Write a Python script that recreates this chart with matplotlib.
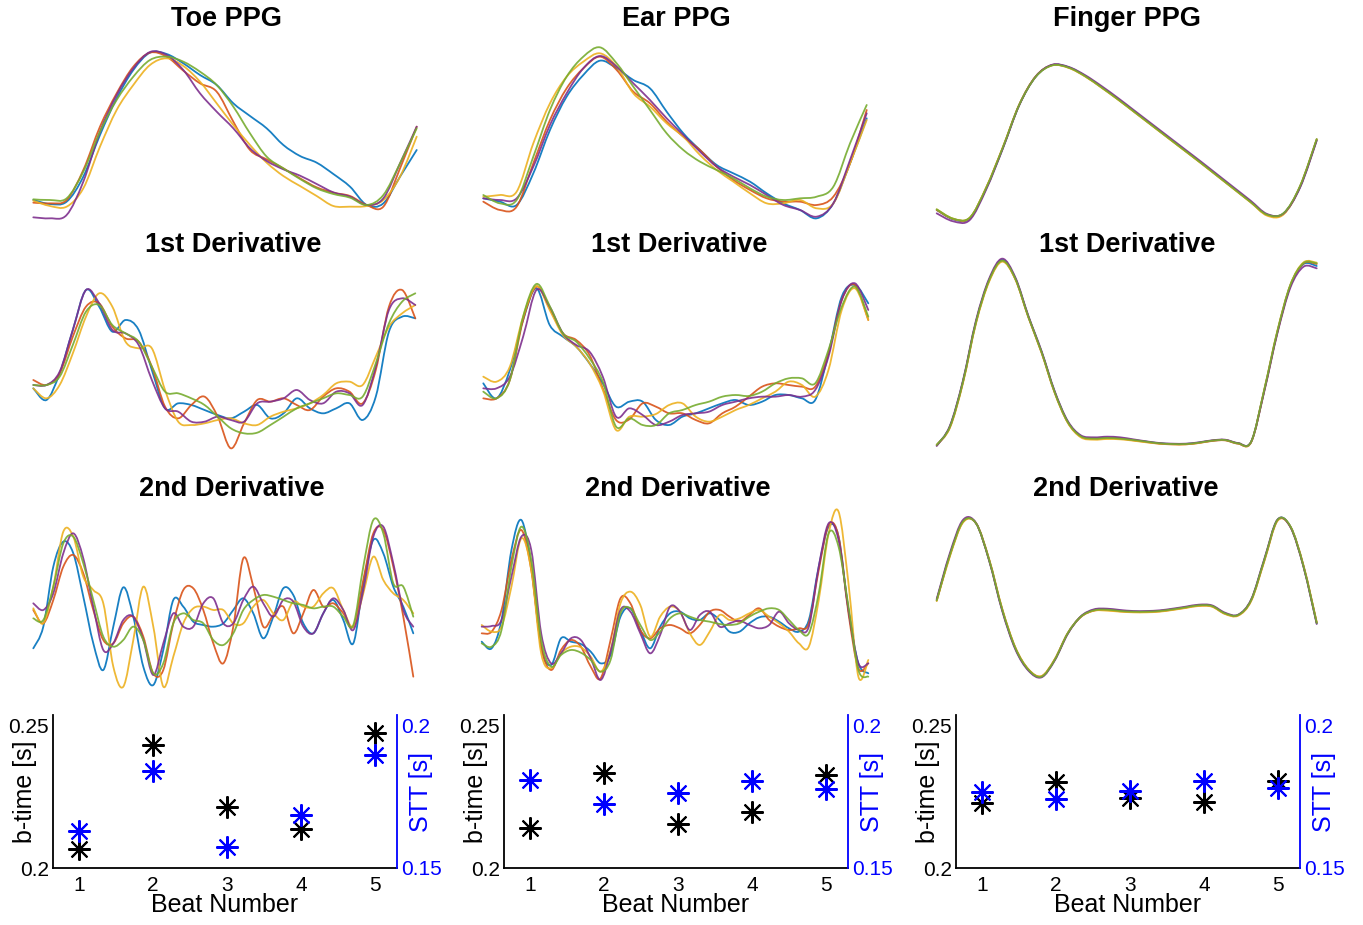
"""PPG beat overlays (toe / ear / finger) with b-time and STT per beat."""

import matplotlib
matplotlib.use('Agg')
import matplotlib.pyplot as plt
from matplotlib.path import Path
from matplotlib.patches import PathPatch
import numpy as np

plt.rcParams['font.family'] = ['Liberation Sans', 'DejaVu Sans']

# MATLAB default line order: blue, red, yellow, purple, green
TRACE_COLORS = ['#0072BD', '#D95319', '#EDB120', '#7E2F8E', '#77AC30']

# ---------------- Toe (amplitude, a.u.) ----------------
toe_ppg_blue = [90, 78, 85, 160, 285, 395, 480, 532, 528, 500, 465, 435, 380, 342, 305, 255, 222, 202, 168, 130, 75, 80, 160, 240]
toe_ppg_red = [82, 80, 90, 180, 310, 410, 490, 532, 520, 478, 440, 415, 325, 240, 212, 185, 155, 128, 112, 102, 75, 70, 185, 310]
toe_ppg_yellow = [88, 72, 70, 125, 250, 360, 435, 495, 515, 492, 445, 380, 315, 255, 202, 162, 132, 102, 72, 70, 72, 90, 160, 280]
toe_ppg_purple = [38, 35, 45, 145, 295, 405, 485, 534, 525, 480, 410, 355, 305, 245, 207, 182, 163, 138, 113, 100, 75, 95, 200, 310]
toe_ppg_green = [92, 90, 95, 175, 295, 390, 460, 510, 520, 505, 475, 435, 370, 290, 220, 185, 153, 125, 108, 97, 75, 105, 200, 305]

toe_d1_blue = [245, 210, 290, 420, 540, 490, 415, 450, 420, 300, 185, 200, 195, 180, 165, 155, 175, 195, 155, 170, 215, 185, 170, 185, 200, 150, 220, 415, 460, 455]
toe_d1_red = [270, 255, 290, 400, 490, 500, 430, 395, 385, 310, 190, 155, 195, 220, 160, 65, 140, 210, 205, 215, 195, 180, 220, 245, 235, 200, 300, 490, 540, 455]
toe_d1_yellow = [245, 215, 255, 350, 460, 530, 490, 385, 365, 365, 240, 145, 135, 140, 150, 155, 140, 135, 160, 175, 185, 200, 225, 260, 265, 255, 340, 430, 470, 495]
toe_d1_purple = [255, 255, 295, 420, 540, 500, 420, 410, 375, 270, 185, 175, 145, 145, 160, 150, 145, 200, 205, 215, 240, 210, 200, 235, 230, 195, 310, 480, 515, 495]
toe_d1_green = [255, 255, 280, 375, 475, 495, 435, 410, 385, 310, 235, 230, 215, 195, 160, 125, 110, 112, 135, 160, 185, 200, 215, 230, 225, 220, 320, 440, 505, 530]

toe_d2_blue = [155, 220, 400, 475, 440, 310, 170, 90, 220, 338, 250, 100, 45, 150, 300, 280, 235, 225, 220, 230, 270, 305, 260, 185, 250, 335, 315, 230, 200, 260, 300, 240, 170, 350, 480, 440, 340, 280, 200]
toe_d2_red = [270, 230, 300, 400, 435, 380, 270, 180, 170, 230, 250, 190, 80, 90, 230, 330, 335, 270, 170, 110, 220, 425, 340, 220, 255, 280, 200, 260, 330, 280, 290, 260, 220, 360, 500, 510, 400, 250, 70]
toe_d2_yellow = [275, 230, 340, 505, 490, 370, 330, 290, 100, 40, 180, 340, 220, 40, 130, 230, 275, 280, 270, 270, 230, 230, 280, 300, 260, 240, 295, 280, 280, 320, 335, 270, 220, 320, 430, 360, 320, 300, 260]
toe_d2_purple = [290, 270, 320, 440, 500, 425, 280, 150, 170, 240, 250, 180, 75, 170, 260, 220, 220, 290, 305, 230, 230, 300, 340, 290, 250, 300, 295, 220, 200, 260, 305, 270, 210, 330, 490, 520, 410, 270, 220]
toe_d2_green = [245, 240, 340, 470, 490, 410, 300, 190, 160, 180, 220, 180, 80, 110, 230, 260, 240, 230, 180, 165, 200, 270, 300, 315, 310, 300, 290, 285, 275, 280, 280, 250, 225, 400, 540, 500, 350, 340, 250]

# ---------------- Ear ----------------
ear_ppg_blue = [95, 85, 75, 170, 300, 400, 465, 508, 485, 450, 425, 355, 290, 240, 195, 170, 145, 110, 80, 60, 35, 80, 200, 335]
ear_ppg_red = [85, 60, 70, 200, 330, 425, 485, 520, 480, 415, 380, 325, 280, 240, 190, 150, 120, 95, 85, 85, 75, 100, 200, 360]
ear_ppg_yellow = [100, 105, 115, 260, 380, 460, 505, 530, 490, 410, 370, 320, 280, 225, 180, 145, 110, 80, 80, 90, 65, 80, 200, 330]
ear_ppg_purple = [95, 90, 95, 190, 315, 410, 485, 522, 490, 440, 390, 335, 285, 235, 190, 160, 135, 105, 75, 60, 40, 80, 210, 350]
ear_ppg_green = [105, 80, 90, 220, 360, 460, 520, 548, 500, 430, 360, 290, 240, 205, 180, 155, 125, 100, 90, 95, 100, 130, 260, 375]

ear_d1_blue = [260, 215, 300, 450, 545, 435, 400, 370, 320, 260, 190, 205, 205, 150, 135, 160, 170, 185, 200, 210, 195, 205, 225, 225, 215, 210, 350, 520, 555, 500]
ear_d1_red = [215, 215, 270, 450, 550, 485, 410, 390, 345, 245, 150, 152, 200, 190, 170, 170, 150, 140, 170, 190, 220, 250, 260, 255, 250, 250, 350, 510, 555, 450]
ear_d1_yellow = [280, 265, 310, 460, 552, 480, 405, 370, 320, 240, 120, 160, 160, 168, 195, 200, 160, 145, 160, 180, 195, 215, 235, 265, 255, 220, 300, 480, 545, 450]
ear_d1_purple = [245, 245, 280, 400, 540, 490, 410, 375, 355, 280, 160, 185, 165, 135, 145, 165, 170, 175, 195, 205, 215, 220, 220, 225, 220, 240, 340, 510, 560, 480]
ear_d1_green = [235, 215, 270, 460, 558, 492, 410, 385, 335, 265, 130, 155, 135, 135, 170, 180, 195, 205, 220, 225, 222, 235, 260, 275, 275, 260, 360, 490, 550, 460]

ear_d2_blue = [175, 155, 240, 450, 540, 400, 160, 105, 185, 175, 168, 145, 110, 135, 250, 275, 210, 155, 220, 260, 265, 245, 240, 260, 240, 205, 205, 230, 248, 250, 235, 215, 205, 240, 400, 520, 490, 270, 110, 80]
ear_d2_red = [200, 205, 270, 420, 510, 390, 160, 90, 150, 180, 160, 100, 65, 180, 305, 290, 210, 185, 215, 225, 215, 200, 225, 265, 270, 250, 235, 255, 275, 240, 220, 210, 215, 230, 390, 525, 490, 260, 95, 110]
ear_d2_yellow = [225, 205, 220, 340, 485, 390, 140, 95, 140, 160, 158, 130, 85, 150, 290, 325, 285, 190, 250, 280, 265, 200, 165, 205, 255, 240, 245, 260, 270, 250, 230, 205, 170, 160, 300, 500, 565, 350, 70, 120]
ear_d2_purple = [220, 222, 240, 370, 490, 450, 200, 110, 140, 185, 180, 125, 60, 145, 270, 265, 200, 140, 195, 280, 265, 210, 255, 265, 220, 230, 238, 225, 215, 225, 265, 230, 210, 220, 400, 530, 480, 270, 110, 110]
ear_d2_green = [170, 160, 210, 400, 520, 420, 180, 100, 135, 150, 142, 120, 85, 120, 260, 275, 225, 180, 205, 245, 260, 250, 240, 235, 228, 225, 230, 250, 265, 275, 270, 240, 210, 200, 320, 500, 460, 280, 90, 70]

# ---------------- Finger ----------------
finger_ppg_blue = [60, 32, 35, 125, 245, 375, 460, 495, 488, 462, 428, 392, 354, 316, 278, 240, 202, 163, 124, 85, 46, 50, 130, 270]
finger_ppg_red = [60, 33, 36, 127, 247, 376, 461, 495, 487, 461, 427, 391, 353, 315, 277, 239, 201, 162, 123, 84, 45, 49, 132, 272]
finger_ppg_yellow = [62, 34, 37, 128, 248, 377, 461, 494, 486, 460, 426, 390, 352, 314, 276, 238, 200, 161, 122, 83, 43, 47, 131, 271]
finger_ppg_purple = [50, 26, 30, 122, 244, 375, 461, 496, 489, 464, 431, 395, 357, 319, 281, 243, 205, 166, 127, 88, 48, 50, 128, 268]
finger_ppg_green = [62, 34, 37, 127, 247, 376, 460, 494, 487, 461, 427, 391, 353, 315, 277, 239, 201, 162, 123, 84, 46, 51, 133, 273]

finger_d1_blue = [15, 70, 205, 385, 510, 570, 515, 400, 295, 175, 85, 42, 35, 37, 35, 30, 25, 20, 18, 18, 22, 28, 30, 20, 25, 180, 355, 495, 558, 552]
finger_d1_red = [14, 68, 203, 383, 508, 567, 513, 398, 293, 173, 83, 40, 33, 35, 34, 29, 24, 19, 17, 17, 21, 27, 29, 19, 24, 178, 353, 493, 560, 558]
finger_d1_yellow = [16, 66, 200, 380, 505, 565, 512, 398, 292, 172, 82, 38, 31, 33, 32, 28, 23, 19, 17, 17, 21, 28, 30, 20, 24, 182, 358, 497, 563, 562]
finger_d1_purple = [12, 72, 208, 389, 514, 574, 518, 402, 297, 177, 87, 44, 38, 40, 38, 32, 26, 21, 19, 19, 23, 29, 31, 21, 25, 176, 350, 488, 550, 545]
finger_d1_green = [15, 69, 204, 384, 509, 568, 514, 399, 294, 174, 84, 41, 34, 36, 34, 30, 25, 20, 18, 18, 22, 28, 30, 20, 25, 181, 356, 496, 561, 560]

finger_d2_blue = [300, 435, 535, 530, 420, 270, 155, 90, 70, 120, 200, 250, 270, 272, 268, 265, 265, 267, 272, 278, 284, 282, 260, 255, 300, 420, 540, 520, 400, 230]
finger_d2_red = [298, 433, 534, 530, 421, 272, 157, 92, 71, 121, 200, 249, 268, 270, 266, 264, 264, 266, 271, 277, 283, 281, 259, 254, 299, 418, 538, 519, 401, 232]
finger_d2_yellow = [297, 430, 532, 531, 423, 274, 158, 92, 72, 122, 201, 250, 268, 268, 265, 263, 263, 265, 270, 276, 282, 280, 258, 253, 297, 416, 537, 520, 403, 234]
finger_d2_purple = [303, 440, 540, 531, 418, 267, 152, 88, 68, 118, 198, 251, 272, 274, 270, 267, 267, 269, 274, 280, 286, 284, 262, 256, 302, 423, 541, 518, 398, 228]
finger_d2_green = [299, 434, 535, 530, 420, 271, 156, 91, 70, 120, 200, 250, 269, 271, 267, 265, 265, 267, 272, 278, 284, 282, 260, 255, 300, 420, 540, 520, 400, 231]

# ---------------- per-beat timings ----------------
beats = [1, 2, 3, 4, 5]
toe_btime = [0.2066, 0.2430, 0.2213, 0.2136, 0.2472]
toe_stt = [0.1629, 0.1839, 0.1573, 0.1685, 0.1895]
ear_btime = [0.2140, 0.2332, 0.2154, 0.2196, 0.2325]
ear_stt = [0.1808, 0.1724, 0.1762, 0.1804, 0.1776]
finger_btime = [0.2227, 0.2301, 0.2245, 0.2231, 0.2304]
finger_stt = [0.1766, 0.1741, 0.1769, 0.1804, 0.1780]

col_titles = ['Toe PPG', 'Ear PPG', 'Finger PPG']
row_titles = ['1st Derivative', '2nd Derivative']

W, H = 1363, 925


def rect(left, top, width, height):
    return [left / W, 1 - (top + height) / H, width / W, height / H]


def smooth_path(y):
    """Cubic Bezier path passing through every sample (Catmull-Rom tangents)."""
    y = np.asarray(y, dtype=float)
    x = np.arange(len(y), dtype=float)
    pts = np.column_stack([x, y])
    padded = np.vstack([pts[0], pts, pts[-1]])
    verts = [pts[0]]
    codes = [Path.MOVETO]
    for i in range(len(pts) - 1):
        p0, p1, p2, p3 = padded[i], padded[i + 1], padded[i + 2], padded[i + 3]
        verts += [p1 + (p2 - p0) / 6.0, p2 - (p3 - p1) / 6.0, p2]
        codes += [Path.CURVE4] * 3
    return Path(verts, codes)


def draw_traces(fig, traces, x0, x1, top, height):
    ax = fig.add_axes(rect(x0, top, x1 - x0, height))
    for trace, color in zip(traces, TRACE_COLORS):
        ax.add_patch(PathPatch(smooth_path(trace), facecolor='none',
                               edgecolor=color, linewidth=1.3, alpha=0.9,
                               capstyle='round', joinstyle='round',
                               clip_on=False))
    ax.set_xlim(0, len(traces[0]) - 1)
    ax.set_ylim(600 - 3 * height, 600)
    ax.axis('off')
    return ax


def draw_timing(fig, left, btime, stt):
    ax = fig.add_axes(rect(left, 715, 344, 153))
    ax.plot(beats, btime, linestyle='none', marker=(8, 2, 0),
            markersize=16, markeredgewidth=1.5, color='black')
    ax.set_xlim(0.65, 5.3)
    ax.set_ylim(0.2, 0.2535)
    ax.set_xticks(beats)
    ax.set_yticks([0.2, 0.25])
    ax.set_yticklabels(['0.2', '0.25'])
    ax.tick_params(length=0, labelsize=15, pad=3)
    ax.tick_params(axis='x', pad=6)
    for s in ('top', 'right'):
        ax.spines[s].set_visible(False)
    for s in ('left', 'bottom'):
        ax.spines[s].set_linewidth(1.3)
    ax.set_ylabel('b-time [s]', fontsize=18, va='center')
    ax.yaxis.set_label_coords(-0.082, 0.5)
    ax.set_xlabel('Beat Number', fontsize=18, va='center')
    ax.xaxis.set_label_coords(0.5, -0.242)

    ax2 = ax.twinx()
    ax2.plot(beats, stt, linestyle='none', marker=(8, 2, 0),
             markersize=16, markeredgewidth=1.5, color='#0000FF')
    ax2.set_ylim(0.15, 0.2035)
    ax2.set_yticks([0.15, 0.2])
    ax2.set_yticklabels(['0.15', '0.2'])
    ax2.tick_params(length=0, labelsize=15, pad=3, labelcolor='#0000FF')
    for s in ('top', 'left', 'bottom'):
        ax2.spines[s].set_visible(False)
    ax2.spines['right'].set_color('#0000FF')
    ax2.spines['right'].set_linewidth(1.3)
    ax2.set_ylabel('STT [s]', fontsize=18, color='#0000FF',
                   rotation=90, va='center')
    ax2.yaxis.set_label_coords(1.07, 0.5)


def main():
    fig = plt.figure(figsize=(W / 100, H / 100), dpi=100)

    toe = [
        [toe_ppg_blue, toe_ppg_red, toe_ppg_yellow, toe_ppg_purple, toe_ppg_green],
        [toe_d1_blue, toe_d1_red, toe_d1_yellow, toe_d1_purple, toe_d1_green],
        [toe_d2_blue, toe_d2_red, toe_d2_yellow, toe_d2_purple, toe_d2_green],
    ]
    ear = [
        [ear_ppg_blue, ear_ppg_red, ear_ppg_yellow, ear_ppg_purple, ear_ppg_green],
        [ear_d1_blue, ear_d1_red, ear_d1_yellow, ear_d1_purple, ear_d1_green],
        [ear_d2_blue, ear_d2_red, ear_d2_yellow, ear_d2_purple, ear_d2_green],
    ]
    finger = [
        [finger_ppg_blue, finger_ppg_red, finger_ppg_yellow, finger_ppg_purple, finger_ppg_green],
        [finger_d1_blue, finger_d1_red, finger_d1_yellow, finger_d1_purple, finger_d1_green],
        [finger_d2_blue, finger_d2_red, finger_d2_yellow, finger_d2_purple, finger_d2_green],
    ]

    # pixel boxes: (x start, x end) per column/row, (top, height) per row
    x_spans = [
        [(33.3, 416.7), (33.3, 415.3), (33.3, 413.3)],
        [(483.3, 866.7), (483.3, 868.3), (481.7, 868.3)],
        [(936.7, 1316.7), (936.7, 1316.7), (936.7, 1316.7)],
    ]
    rows = [
        [(30, 200), (270, 190), (500, 200)],
        [(30, 200), (270, 190), (500, 200)],
        [(30, 200), (250, 210), (500, 200)],
    ]

    for col, site in enumerate([toe, ear, finger]):
        for row in range(3):
            x0, x1 = x_spans[col][row]
            top, height = rows[col][row]
            draw_traces(fig, site[row], x0, x1, top, height)

    title_x = [[226, 233, 232], [676, 679, 678], [1127, 1127, 1126]]
    title_y = [19, 245, 489]
    for col in range(3):
        labels = [col_titles[col]] + row_titles
        for row in range(3):
            fig.text(title_x[col][row] / W, 1 - title_y[row] / H, labels[row],
                     ha='center', va='center', fontsize=19.5, fontweight='bold')

    for left, bt, st in [(53, toe_btime, toe_stt),
                         (504, ear_btime, ear_stt),
                         (956, finger_btime, finger_stt)]:
        draw_timing(fig, left, bt, st)

    fig.savefig('out.png', dpi=100)


if __name__ == '__main__':
    main()
